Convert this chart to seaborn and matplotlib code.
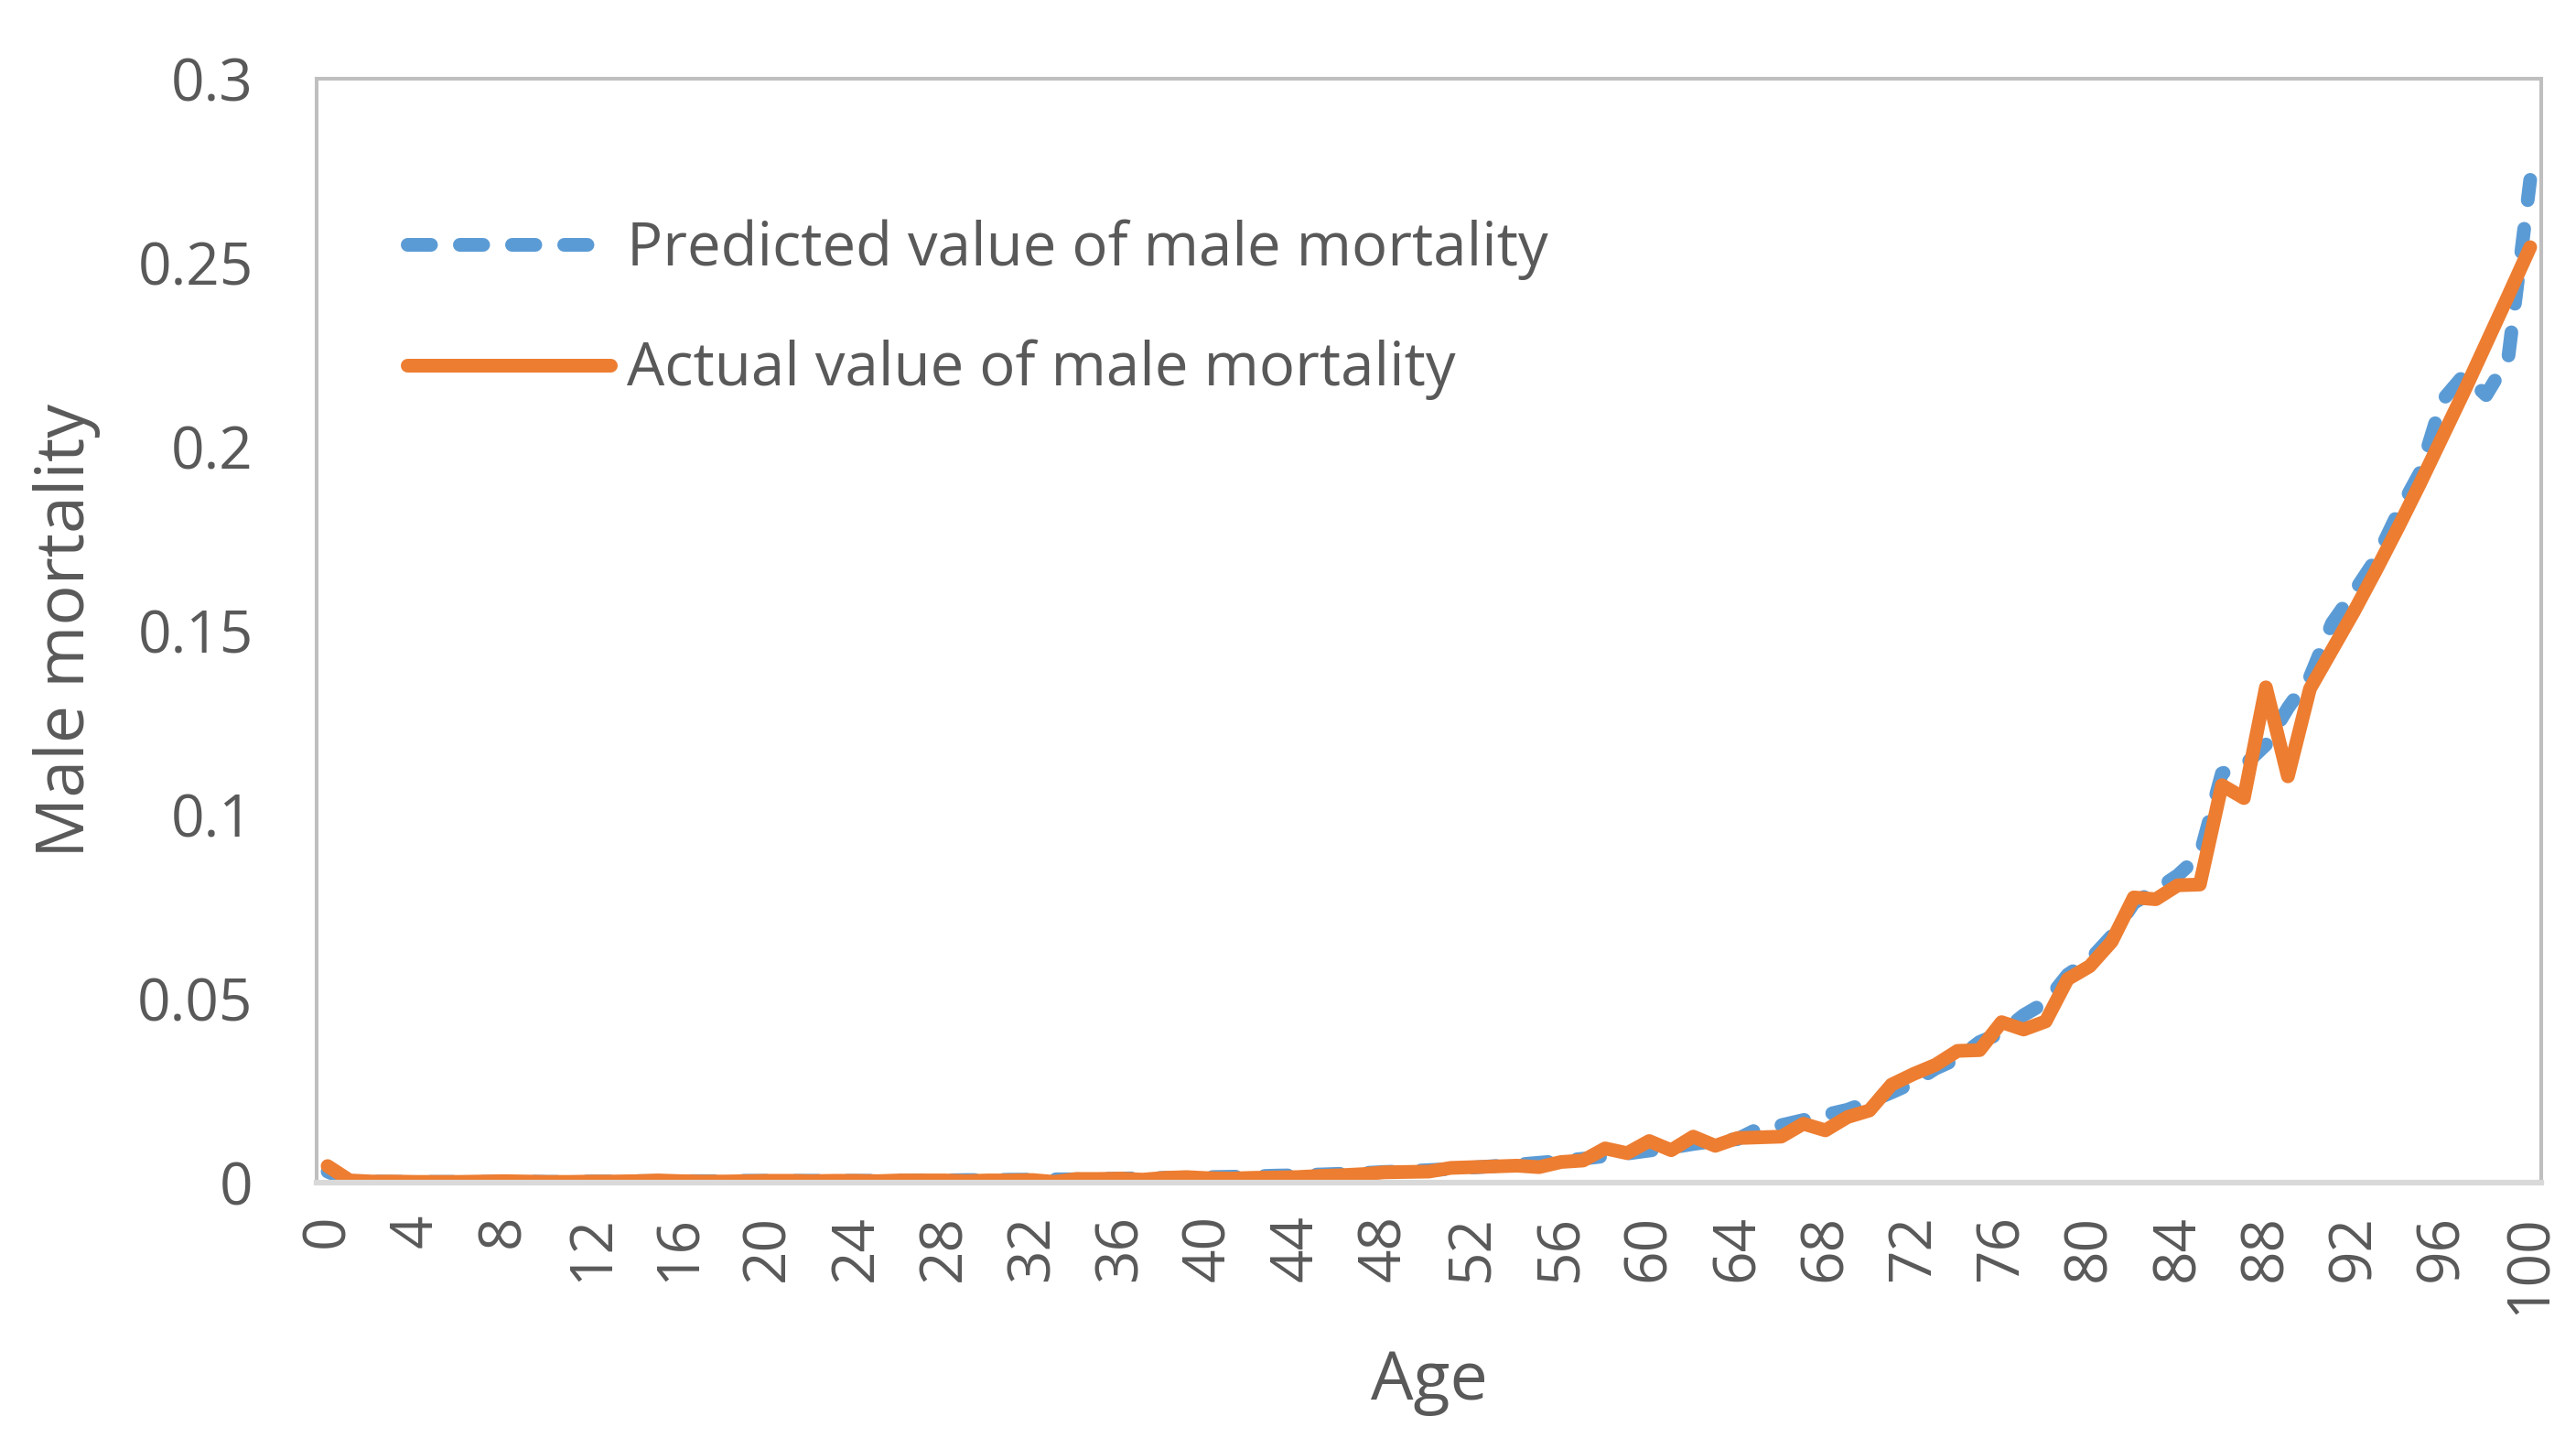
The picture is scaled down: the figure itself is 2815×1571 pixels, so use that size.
import pandas as pd
import seaborn as sns
import matplotlib.pyplot as plt

# Ages 0..100 and male mortality values
ages = list(range(0, 101))

predicted = [
    0.0030, 0.0004, 0.0003, 0.0002, 0.0002, 0.0002, 0.0002, 0.0002, 0.0003, 0.0003,
    0.0002, 0.0002, 0.0003, 0.0003, 0.0004, 0.0004, 0.0004, 0.0004, 0.0004, 0.0005,
    0.0005, 0.0005, 0.0005, 0.0005, 0.0005, 0.0005, 0.0005, 0.0006, 0.0006, 0.0007,
    0.0007, 0.0008, 0.0008, 0.0009, 0.0009, 0.0010, 0.0011, 0.0012, 0.0013, 0.0014,
    0.0015, 0.0016, 0.0017, 0.0019, 0.0020, 0.0022, 0.0024, 0.0026, 0.0029, 0.0031,
    0.0034, 0.0037, 0.0041, 0.0045, 0.0049, 0.0054, 0.0059, 0.0065, 0.0072, 0.0079,
    0.0087, 0.0095, 0.0105, 0.0113, 0.0118, 0.0148, 0.0156, 0.0170, 0.0184, 0.0198,
    0.0220, 0.0245, 0.0272, 0.0310, 0.0337, 0.0382, 0.0407, 0.0455, 0.0490, 0.0565,
    0.0605, 0.0670, 0.0760, 0.0795, 0.0835, 0.0890, 0.1112, 0.1133, 0.1190, 0.1290,
    0.1374, 0.1520, 0.1605, 0.1695, 0.1820, 0.1930, 0.2125, 0.2195, 0.2140, 0.2240,
    0.2725,
]

actual = [
    0.0045, 0.0006, 0.0003, 0.0003, 0.0002, 0.0002, 0.0002, 0.0003, 0.0004, 0.0003,
    0.0002, 0.0002, 0.0003, 0.0003, 0.0004, 0.0006, 0.0004, 0.0003, 0.0003, 0.0004,
    0.0005, 0.0005, 0.0004, 0.0005, 0.0005, 0.0004, 0.0006, 0.0006, 0.0006, 0.0004,
    0.0006, 0.0006, 0.0007, 0.0002, 0.0010, 0.0010, 0.0011, 0.0008, 0.0013, 0.0015,
    0.0012, 0.0011, 0.0013, 0.0014, 0.0015, 0.0018, 0.0020, 0.0023, 0.0028, 0.0029,
    0.0030, 0.0040, 0.0042, 0.0044, 0.0046, 0.0042, 0.0056, 0.0060, 0.0093, 0.0080,
    0.0113, 0.0088, 0.0125, 0.0100, 0.0121, 0.0123, 0.0125, 0.0160, 0.0142, 0.0178,
    0.0196, 0.0266, 0.0295, 0.0320, 0.0358, 0.0360, 0.0436, 0.0416, 0.0438, 0.0553,
    0.0588, 0.0655, 0.0775, 0.0770, 0.0808, 0.0810, 0.1080, 0.1045, 0.1346, 0.1104,
    0.1342, 0.1447, 0.1552, 0.1664, 0.1780, 0.1900, 0.2025, 0.2150, 0.2280, 0.2410,
    0.2542,
]

y_ticks = [0, 0.05, 0.1, 0.15, 0.2, 0.25, 0.3]
y_tick_labels = ["0", "0.05", "0.1", "0.15", "0.2", "0.25", "0.3"]
x_ticks = list(range(0, 101, 4))

df = pd.DataFrame({"Age": ages, "Predicted": predicted, "Actual": actual})

sns.set_style("white")
plt.rcParams["font.family"] = ["Open Sans", "DejaVu Sans"]

text_color = "#595959"
blue = "#5B9BD5"
orange = "#ED7D31"

fig = plt.figure(figsize=(28.15, 15.71), dpi=100)
ax = fig.add_axes([0.1229, 0.1776, 0.8636, 0.7677])

sns.lineplot(data=df, x="Age", y="Predicted", ax=ax, color=blue, lw=10.8,
             label="Predicted value of male mortality")
sns.lineplot(data=df, x="Age", y="Actual", ax=ax, color=orange, lw=10.8,
             label="Actual value of male mortality")

pred_line, act_line = ax.lines[0], ax.lines[1]
pred_line.set_dashes([1.7, 2.1])
pred_line.set_dash_capstyle("round")
pred_line.set_dash_joinstyle("round")
act_line.set_solid_capstyle("round")
act_line.set_solid_joinstyle("round")

ax.set_xlim(-0.5, 100.5)
ax.set_ylim(0, 0.3)
ax.set_xticks(x_ticks)
ax.set_xticklabels([str(a) for a in x_ticks], rotation=90)
ax.set_yticks(y_ticks)
ax.set_yticklabels(y_tick_labels)
ax.tick_params(axis="y", length=0, pad=50, labelsize=46, labelcolor=text_color)
ax.tick_params(axis="x", length=0, pad=25, labelsize=46, labelcolor=text_color)

for side in ["left", "top", "right"]:
    ax.spines[side].set_color("#BFBFBF")
    ax.spines[side].set_linewidth(2.9)
ax.spines["bottom"].set_color("#D9D9D9")
ax.spines["bottom"].set_linewidth(4.5)

ax.set_xlabel("Age", fontsize=53, color=text_color)
ax.set_ylabel("Male mortality", fontsize=53, color=text_color)
ax.xaxis.set_label_coords(0.5, -0.15)
ax.yaxis.set_label_coords(-0.097, 0.5)

ax.legend(loc="upper left", bbox_to_anchor=(0.0407, 0.873), frameon=False,
          fontsize=47, handlelength=3.4, handletextpad=0.28, labelspacing=1.0,
          borderpad=0, borderaxespad=0, labelcolor=text_color)

fig.savefig("out.png", dpi=100, facecolor="white")
